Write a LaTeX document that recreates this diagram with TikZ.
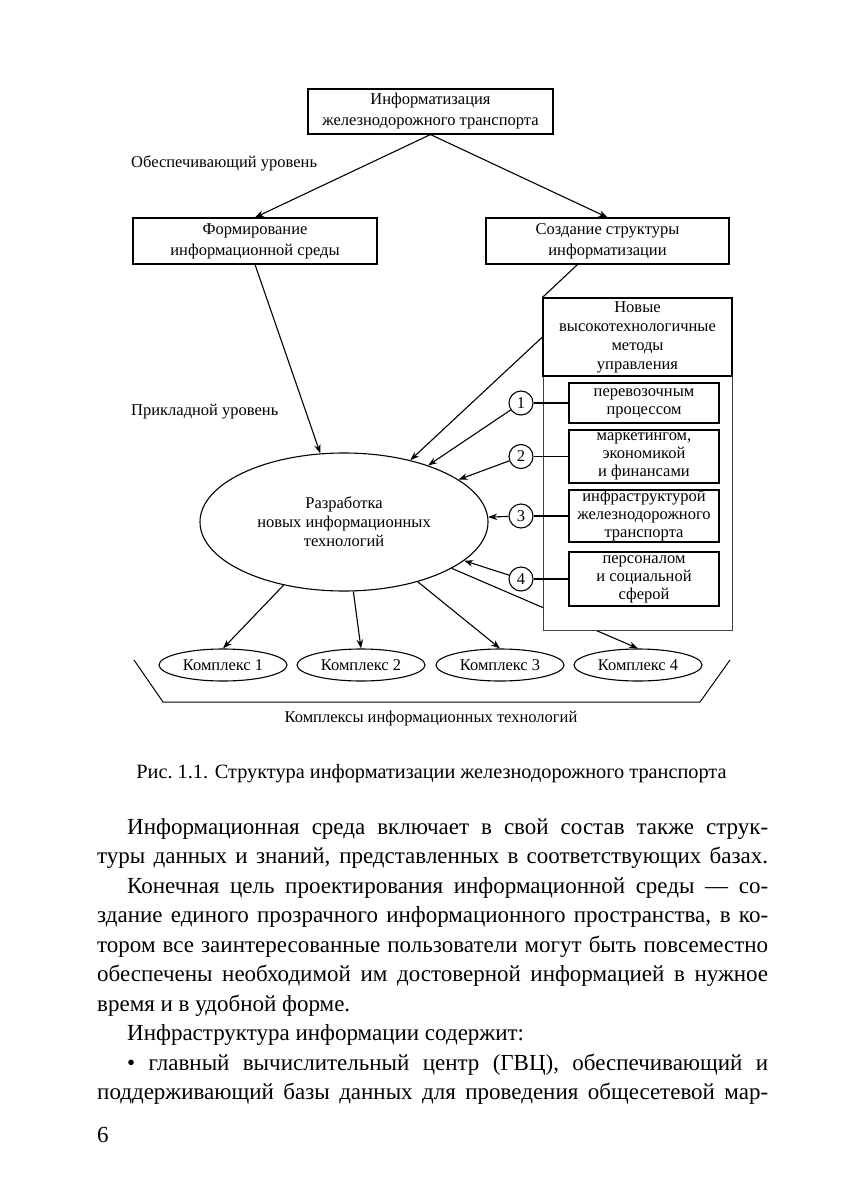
\documentclass[tikz,border=0pt]{standalone}
\usepackage{fontspec}
\setmainfont{Liberation Serif}
\usetikzlibrary{shapes.geometric, arrows.meta, positioning, calc}

\newcommand{\diagfont}{\fontsize{16.5}{18}\selectfont}
\newcommand{\boxfont}{\fontsize{16.5}{21}\selectfont}
\newcommand{\methfont}{\fontsize{16.5}{19}\selectfont}
\newcommand{\bodyfont}{\fontsize{23}{29.5}\selectfont}
\newcommand{\capfont}{\fontsize{20.3}{24}\selectfont}

\tikzset{
	blk/.style={draw, line width=1.1pt, inner sep=0pt, align=center, font=\diagfont, execute at begin node={\rule{0pt}{13pt}}},
	oval/.style={draw, ellipse, line width=1.1pt, inner sep=0pt, text depth=0pt, align=center, font=\diagfont},
	num/.style={draw, circle, line width=1.1pt, inner sep=0pt, minimum size=24pt, font=\diagfont},
	lbl/.style={inner sep=0pt, font=\diagfont},
	txt/.style={inner sep=0pt, anchor=base west, font=\bodyfont},
	arr/.style={->, line width=1.1pt},
	>={Stealth[length=9pt, width=6.5pt]}
}

\begin{document}
\begin{tikzpicture}[x=1pt, y=-1pt]
		\path[use as bounding box] (0,0) rectangle (857,1182);

		\coordinate (inf)    at (430.5, 111.5);
		\coordinate (form)   at (255, 241);
		\coordinate (struct) at (607.5, 241);
		\coordinate (panel)  at (637.5, 464);
		\coordinate (meth)   at (637.5, 337);
		\coordinate (dev)    at (344, 522);

		% upper level
		\node[blk, minimum width=245pt, minimum height=45pt, font=\boxfont] (INF) at (inf) {Информатизация\\железнодорожного транспорта};
		\node[blk, minimum width=244pt, minimum height=46pt, font=\boxfont] (FORM) at (form) {Формирование\\информационной среды};
		\node[blk, minimum width=243pt, minimum height=46pt, font=\boxfont] (STR) at (struct) {Создание структуры\\информатизации};
		\node[lbl, anchor=base west] (SUP) at (131,168) {Обеспечивающий уровень};
		\node[lbl, anchor=base west] (APP) at (131,415) {Прикладной уровень};

		% development and complexes
		\node[oval, minimum width=288pt, minimum height=138pt, font=\methfont] (DEV) at (dev) {Разработка\\новых информационных\\технологий};
		\foreach \i/\x in {1/223, 2/361, 3/500, 4/638}
			\node[oval, minimum width=128pt, minimum height=32pt] (K\i) at (\x,665) {Комплекс \i};
		\foreach \i in {1,...,4}
			\draw[arr] (DEV) -- (K\i.north);
		\draw[line width=1pt] (134,660) -- (163,702) -- (700,702) -- (730,660);
		\node[lbl, anchor=base] (CPX) at (431,722) {Комплексы информационных технологий};

		% methods panel
		\node[draw=black!75, fill=white, line width=1pt, minimum width=189pt, minimum height=332pt, inner sep=0pt] (PAN) at (panel) {};
		\node[blk, fill=white, minimum width=189pt, minimum height=78pt, font=\methfont] (METH) at (meth) {Новые\\высокотехнологичные\\методы\\управления};
		\node[blk, minimum width=150pt, minimum height=40pt] (M1) at (644,403) {перевозочным\\процессом};
		\node[blk, minimum width=150pt, minimum height=53pt] (M2) at (644,456.5) {маркетингом,\\экономикой\\и финансами};
		\node[blk, minimum width=150pt, minimum height=52pt] (M3) at (644,516) {инфраструктурой\\железнодорожного\\транспорта};
		\node[blk, minimum width=150pt, minimum height=54pt] (M4) at (644,579) {персоналом\\и социальной\\сферой};
		\foreach \i/\y in {1/403, 2/456.5, 3/516, 4/579}
			\node[num] (C\i) at (521,\y) {\i};
		\foreach \i in {1,...,4} {
			\draw[line width=1.1pt] (C\i) -- (M\i);
			\draw[arr] (C\i) -- (DEV);
		}

		\draw[arr] (INF.south) -- (FORM.north);
		\draw[arr] (INF.south) -- (STR.north);
		\draw[arr] (FORM.south) -- (DEV);
		\draw[line width=1.1pt] ($(STR.south)+(-30,0)$) -- (METH.north west);
		\draw[arr] (METH.west) -- (DEV);

		% caption and text
		\node[inner sep=0pt, anchor=base, font=\capfont] (CAP) at (431.5,778) {Рис.~1.1. Структура информатизации железнодорожного транспорта};
		\node[txt] (L1) at (127,834) {\makebox[641pt][s]{Информационная среда включает в свой состав также струк-}};
		\node[txt] (L2) at (97,863.5) {\makebox[671pt][s]{туры данных и знаний, представленных в соответствующих базах.}};
		\node[txt] (L3) at (127,893) {\makebox[641pt][s]{Конечная цель проектирования информационной среды — со-}};
		\node[txt] (L4) at (97,922.5) {\makebox[671pt][s]{здание единого прозрачного информационного пространства, в ко-}};
		\node[txt] (L5) at (97,952) {\makebox[671pt][s]{тором все заинтересованные пользователи могут быть повсеместно}};
		\node[txt] (L6) at (97,981.5) {\makebox[671pt][s]{обеспечены необходимой им достоверной информацией в нужное}};
		\node[txt] (L7) at (97,1011) {время и в удобной форме.};
		\node[txt] (L8) at (127,1040.5) {Инфраструктура информации содержит:};
		\node[txt] (L9) at (127,1070) {\makebox[641pt][s]{• главный вычислительный центр (ГВЦ), обеспечивающий и}};
		\node[txt] (L10) at (97,1099.5) {\makebox[671pt][s]{поддерживающий базы данных для проведения общесетевой мар-}};
		\node[txt] (PG) at (97,1142) {6};
	\end{tikzpicture}
\end{document}
